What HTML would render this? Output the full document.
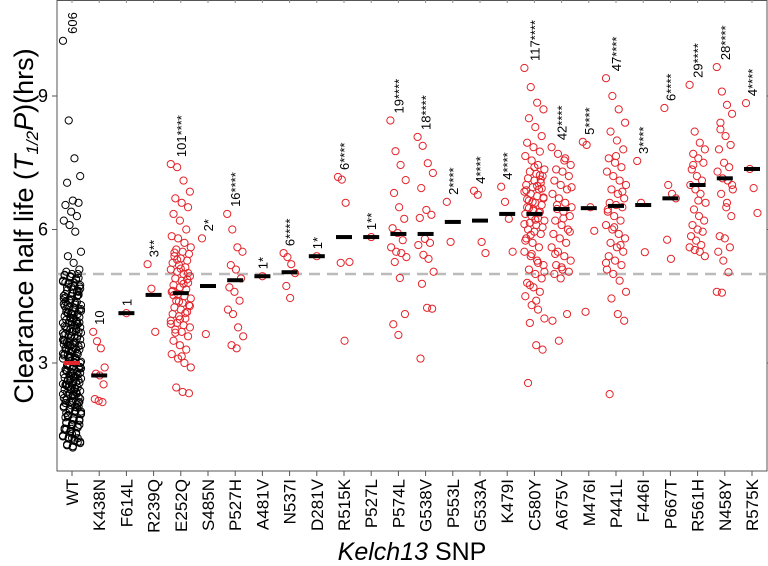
<!DOCTYPE html>
<html><head><meta charset="utf-8"><style>
html,body{margin:0;padding:0;background:#fff;}
svg{display:block;font-family:"Liberation Sans",Arial,sans-serif;}
</style></head><body>
<svg id="chart" width="768" height="566" viewBox="0 0 768 566" xmlns="http://www.w3.org/2000/svg">
<rect x="57" y="0.5" width="710" height="470.5" fill="none" stroke="#555" stroke-width="1"/>
<g id="axes"></g>
<g id="marks"></g>
<text transform="translate(33,226) rotate(-90)" text-anchor="middle" font-size="27" fill="#000">Clearance half life (<tspan font-style="italic">T</tspan><tspan font-style="italic" font-size="17" dy="5">1/2</tspan><tspan font-style="italic" dy="-5">P</tspan>)(hrs)</text>
<text x="412" y="560" text-anchor="middle" font-size="25" fill="#000"><tspan font-style="italic">Kelch13</tspan> SNP</text>
</svg>
<script>
const categories=["WT","K438N","F614L","R239Q","E252Q","S485N","P527H","A481V","N537I","D281V","R515K","P527L","P574L","G538V","P553L","G533A","K479I","C580Y","A675V","M476I","P441L","F446I","P667T","R561H","N458Y","R575K"];
const countLabels=["606","10","1","3**","101****","2*","16****","1*","6****","1*","6****","1**","19****","18****","2****","4****","4****","117****","42****","5****","47****","3****","6****","29****","28****","4****"];
const medians=[3.0,2.72,4.12,4.53,4.57,4.73,4.86,4.95,5.04,5.4,5.83,5.83,5.9,5.9,6.17,6.2,6.35,6.35,6.46,6.48,6.53,6.55,6.7,7.0,7.15,7.36];
const yTicks=[3,6,9];
const wtValues=[10.24,8.45,7.6,7.2,7.05,6.65,6.6,6.55,6.4,6.3,6.2,6.1,5.95,5.5,5.4,5.25,5.1,5.05,5.0,5.0,4.98,4.95,4.9,4.85,4.8,4.8,4.75,4.7,4.65,4.6,4.55,4.5,4.5,4.45,4.4,4.35,4.3,4.3,4.25,4.2,4.15,4.1,4.1,4.05,4.0,3.95,3.9,3.9,3.85,3.8,3.75,3.7,3.7,3.65,3.6,3.55,3.5,3.5,3.45,3.4,3.4,3.35,3.3,3.3,3.25,3.2,3.2,3.15,3.1,3.1,3.05,3.0,3.0,2.95,2.9,2.9,2.85,2.8,2.8,2.75,2.7,2.7,2.65,2.6,2.6,2.55,2.5,2.5,2.45,2.4,2.4,2.35,2.3,2.3,2.25,2.2,2.2,2.15,2.1,2.1,2.05,2.0,2.0,1.95,1.9,1.85,1.8,1.75,1.7,1.65,1.6,1.55,1.5,1.45,1.4,1.35,1.3,1.25,1.2,1.15,1.1,4.62,4.38,4.12,3.88,3.62,3.38,3.12,2.88,2.62,2.38,2.12,1.88,1.62,4.52,4.28,4.02,3.78,3.52,3.28,3.02,2.78,2.52,2.28,2.02,1.78,1.52,3.92,3.42,2.92,2.42,3.68,3.18,2.68,4.72,4.22,1.32,1.22,4.97,4.93,4.87,4.83,4.77,4.73,4.67,4.63,4.57,4.53,4.47,4.43,4.37,4.33,4.27,4.23,4.17,4.13,4.07,4.03,3.97,3.93,3.87,3.83,3.77,3.73,3.67,3.63,3.57,3.53,3.47,3.43,3.37,3.33,3.27,3.23,3.17,3.13,3.07,3.03,2.97,2.93,2.87,2.83,2.77,2.73,2.67,2.63,2.57,2.53,2.47,2.43,2.37,2.33,2.27,2.23,2.17,2.13,2.07,2.03,1.97,1.93,1.87,1.83,1.77,1.73,1.67,1.63,1.57,1.53,1.47,1.43,1.37,1.33,1.27,1.23,1.17,1.13,4.91,4.81,4.71,4.61,4.51,4.41,4.31,4.21,4.11,4.01,3.91,3.81,3.71,3.61,3.51,3.41,3.31,3.21,3.11,3.01,2.91,2.81,2.71,2.61,2.51,2.41,2.31,2.21,2.11,2.01,1.91,1.81,1.71,1.61,1.51,1.41,1.31];
const k438nValues=[3.7,3.49,3.33,2.9,2.76,2.72,2.52,2.19,2.15,2.12];
const f614lValues=[4.12];
const r239qValues=[5.22,4.67,3.7];
const e252qValues=[7.47,7.4,7.1,6.85,6.7,6.6,6.5,6.35,6.2,6.0,5.85,5.8,5.7,5.6,5.55,5.5,5.45,5.4,5.35,5.3,5.25,5.2,5.15,5.1,5.05,5.0,4.95,4.9,4.85,4.8,4.75,4.7,4.65,4.6,4.55,4.5,4.45,4.4,4.35,4.3,4.25,4.2,4.15,4.1,4.05,4.0,3.95,3.9,3.85,3.8,3.75,3.7,3.6,3.5,3.4,3.3,3.2,3.1,3.0,2.9,2.45,2.35,2.32,5.48,5.12,4.88,4.62,4.38,4.12,3.88,5.32,4.78,4.28,3.68,3.15,5.02,4.52,3.98];
const s485nValues=[5.8,3.65];
const p527hValues=[6.35,6.0,5.6,5.5,5.2,5.1,4.9,4.7,4.6,4.4,4.2,4.1,3.8,3.6,3.4,3.33];
const a481vValues=[4.95];
const n537iValues=[5.47,5.38,5.22,5.02,4.73,4.46];
const d281vValues=[5.4];
const r515kValues=[7.18,7.12,6.6,5.27,5.25,3.5];
const p527lValues=[5.83];
const p574lValues=[8.45,7.76,7.45,7.11,6.82,6.5,6.24,6.03,5.92,5.76,5.6,5.5,5.47,5.38,5.27,4.91,4.1,3.87,3.63];
const g538vValues=[8.08,7.88,7.49,7.27,6.93,6.44,6.33,6.26,5.79,5.7,5.65,5.43,5.34,5.05,4.78,4.24,4.22,3.1];
const p553lValues=[6.62,5.72];
const g533aValues=[6.87,6.78,5.72,5.47];
const k479iValues=[6.96,6.62,6.24,5.5];
const c580yValues=[9.63,9.2,8.85,8.7,8.5,8.3,8.1,7.95,7.85,7.75,7.65,7.55,7.45,7.35,7.3,7.25,7.2,7.15,7.1,7.05,7.0,6.95,6.9,6.85,6.8,6.75,6.7,6.65,6.6,6.55,6.5,6.45,6.4,6.35,6.3,6.25,6.2,6.15,6.1,6.05,6.0,5.95,5.9,5.8,5.7,5.6,5.5,5.4,5.3,5.2,5.1,5.0,4.9,4.8,4.7,4.6,4.5,4.3,4.2,4.0,3.9,3.4,3.3,2.55,7.4,7.12,6.88,6.62,6.38,6.12,5.88,6.98,6.72,6.48,6.22,6.92,6.68,6.42,7.22,5.75,5.45,5.25,5.05,4.75,4.4];
const a675vValues=[7.85,7.7,7.55,7.45,7.35,7.3,7.2,7.1,7.0,6.9,6.8,6.7,6.6,6.5,6.46,6.4,6.3,6.2,6.1,6.0,5.9,5.8,5.7,5.6,5.5,5.4,5.3,5.2,5.1,5.05,5.0,4.9,4.1,3.95,3.5,7.6,6.95,6.55,6.25,5.95,5.45,5.15];
const m476iValues=[7.97,7.9,6.5,5.97,4.15];
const p441lValues=[9.4,9.0,8.7,8.4,8.2,8.0,7.8,7.6,7.5,7.4,7.3,7.2,7.1,7.0,6.9,6.8,6.7,6.6,6.55,6.5,6.4,6.3,6.2,6.1,6.0,5.9,5.8,5.7,5.6,5.5,5.4,5.3,5.2,5.1,5.0,4.85,4.6,4.45,4.1,3.95,2.3,7.65,6.85,6.45,6.05,5.65,5.25];
const f446iValues=[7.54,6.6,5.49];
const p667tValues=[8.73,7.0,6.8,6.7,5.77,5.34];
const r561hValues=[9.25,8.2,7.95,7.8,7.7,7.6,7.5,7.35,7.2,7.1,7.0,6.9,6.8,6.6,6.45,6.3,6.2,6.1,6.0,5.95,5.85,5.75,5.65,5.6,5.54,5.5,5.4,7.45,6.65];
const n458yValues=[9.65,9.1,8.8,8.6,8.4,8.1,7.9,7.8,7.5,7.4,7.3,7.15,7.1,6.9,6.8,6.5,6.3,5.85,5.8,5.6,5.5,5.3,5.04,4.6,4.58,6.6,7.0,8.25];
const r575kValues=[8.84,7.36,6.93,6.37];
const allValues=[wtValues,k438nValues,f614lValues,r239qValues,e252qValues,s485nValues,p527hValues,a481vValues,n537iValues,d281vValues,r515kValues,p527lValues,p574lValues,g538vValues,p553lValues,g533aValues,k479iValues,c580yValues,a675vValues,m476iValues,p441lValues,f446iValues,p667tValues,r561hValues,n458yValues,r575kValues];

const NS="http://www.w3.org/2000/svg";
function yScale(v){return 363-(v-3)*44.5;}
function xScale(i){return 72+27.2*i;}
function mk(tag,attrs,parent){const e=document.createElementNS(NS,tag);for(const k in attrs)e.setAttribute(k,attrs[k]);parent.appendChild(e);return e;}
const axes=document.getElementById('axes');
const marks=document.getElementById('marks');

yTicks.forEach(t=>{
  const y=yScale(t);
  const tk=mk('line',{x1:52,x2:57,y1:y,y2:y,stroke:'#555'},axes);
  
  
  const rt=mk('line',{x1:767,x2:772,y1:y,y2:y,stroke:'#555'},axes);
  
  
  const lb=mk('text',{x:48,y:y+6,'text-anchor':'end','font-size':18,fill:'#000'},axes);
  
  
  lb.textContent=t;
});
const ref=mk('line',{x1:57,x2:767,y1:yScale(5),y2:yScale(5),stroke:'#bbb','stroke-width':2.5,'stroke-dasharray':'11 7'},axes);



categories.forEach((c,i)=>{
  const x=xScale(i);
  const tk=mk('line',{x1:x,x2:x,y1:471,y2:476,stroke:'#555'},axes);
  
  
  const tt=mk('line',{x1:x,x2:x,y1:0,y2:3,stroke:'#888'},axes);
  
  
  const lb=mk('text',{transform:`translate(${x+6},479) rotate(-90)`,'text-anchor':'end','font-size':17,fill:'#000'},axes);
  
  
  lb.textContent=c;

  const vals=allValues[i];
  const n=vals.length;
  const w=i===0?9:(n>40?10:(n>10?8:6));
  const color=i===0?'#000':'#e3242b';
  vals.forEach((v,j)=>{
    const off=n===1?0:((j*53)%23-11)/11*w;
    const p=mk('circle',{cx:x+off,cy:yScale(v),r:3.6,fill:'none',stroke:color,'stroke-width':1},marks);
    
    
  });
  const med=mk('rect',{x:x-8,y:yScale(medians[i])-2,width:16,height:4,fill:i===0?'#e3242b':'#000'},marks);
  
  
  const mx=Math.max(...vals);
  const cl=mk('text',{transform:`translate(${x+5},${yScale(mx)-7}) rotate(-90)`,'text-anchor':'start','font-size':13,fill:'#000'},marks);
  
  
  cl.textContent=countLabels[i];
});
</script>
</body></html>
